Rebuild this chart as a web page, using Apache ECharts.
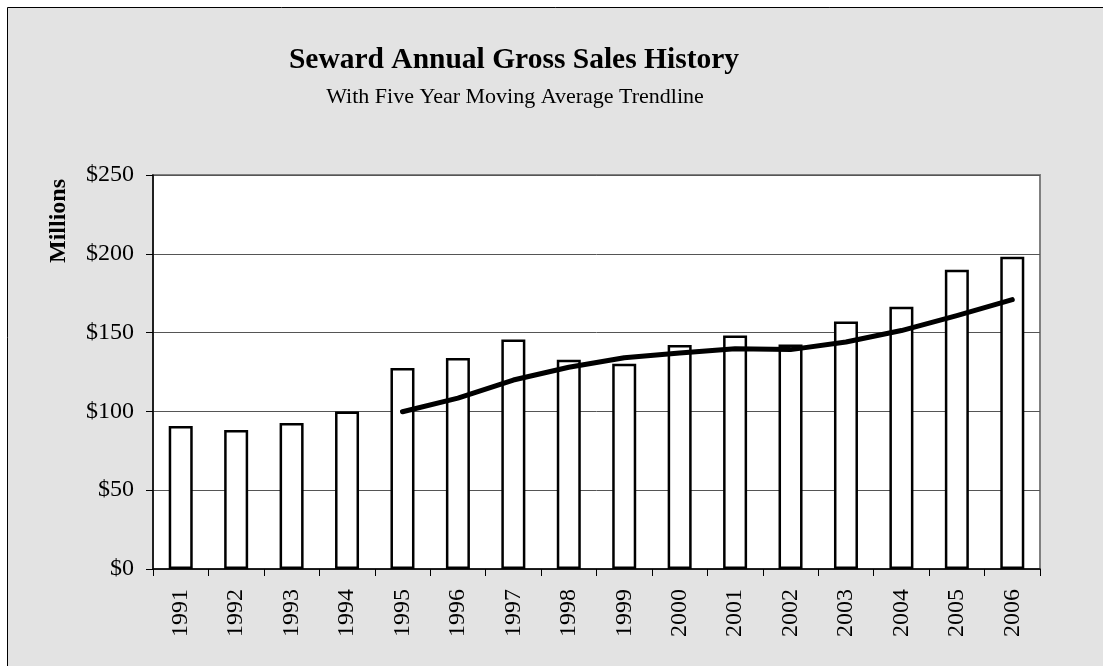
<!DOCTYPE html>
<html>
<head>
<meta charset="utf-8">
<script src="https://cdn.jsdelivr.net/npm/echarts@6/dist/echarts.min.js"></script>
<style>
html,body{margin:0;padding:0;background:#fff;}
#chart{width:1103px;height:666px;}
</style>
</head>
<body>
<div id="chart"></div>
<script>
const years = ['1991','1992','1993','1994','1995','1996','1997','1998','1999','2000','2001','2002','2003','2004','2005','2006'];
const grossSales = [90.7, 88.2, 92.6, 100.0, 127.5, 133.9, 145.7, 132.8, 130.3, 142.1, 148.2, 142.5, 157.1, 166.4, 189.9, 198.2];
const movingAverage = [null, null, null, null, 99.8, 108.4, 119.9, 128.0, 134.0, 137.0, 139.8, 139.2, 144.0, 151.3, 160.8, 170.9];
const yTicks = [0, 50, 100, 150, 200, 250];

const serif = '"Liberation Serif", "DejaVu Serif", serif';
const chart = echarts.init(document.getElementById('chart'));
chart.setOption({
  backgroundColor: '#ffffff',
  animation: false,
  graphic: [
    {type:'rect', z:-10, shape:{x:7.5, y:7.5, width:1200, height:700}, style:{fill:'#e3e3e3', stroke:'#000', lineWidth:1}},
    {type:'text', x:514, y:60, style:{text:'Seward Annual Gross Sales History', font:'bold 29.5px ' + serif, fill:'#000', align:'center', verticalAlign:'middle'}},
    {type:'text', x:515, y:97, style:{text:'With Five Year Moving Average Trendline', font:'22px ' + serif, fill:'#000', align:'center', verticalAlign:'middle'}},
    {type:'text', x:59, y:221, rotation:Math.PI/2, style:{text:'Millions', font:'bold 24px ' + serif, fill:'#000', align:'center', verticalAlign:'middle'}}
  ],
  grid: {left:153, right:63, top:175, bottom:97, show:true, backgroundColor:'#ffffff', borderColor:'#808080', borderWidth:2},
  xAxis: {
    type:'category', data: years,
    axisLine:{show:true, lineStyle:{color:'#000', width:1.5}},
    axisTick:{show:true, alignWithLabel:false, length:7, lineStyle:{color:'#000'}},
    axisLabel:{rotate:90, margin:20, color:'#000', fontFamily:serif, fontSize:24}
  },
  yAxis: {
    type:'value', min:yTicks[0], max:yTicks[yTicks.length-1], interval:50,
    axisLine:{show:true, lineStyle:{color:'#000', width:1.5}},
    axisTick:{show:true, length:7, lineStyle:{color:'#000'}},
    axisLabel:{margin:19, color:'#000', fontFamily:serif, fontSize:24, formatter: v => '$' + v},
    splitLine:{show:true, lineStyle:{color:'#555', width:1}}
  },
  series: [
    {type:'bar', data: grossSales, barWidth:24,
     itemStyle:{color:'#ffffff', borderColor:'#000', borderWidth:2.5}},
    {type:'line', data: movingAverage, connectNulls:false, symbol:'none', smooth:false,
     lineStyle:{color:'#000', width:5, cap:'round', join:'round'}}
  ]
});
</script>
</body>
</html>
